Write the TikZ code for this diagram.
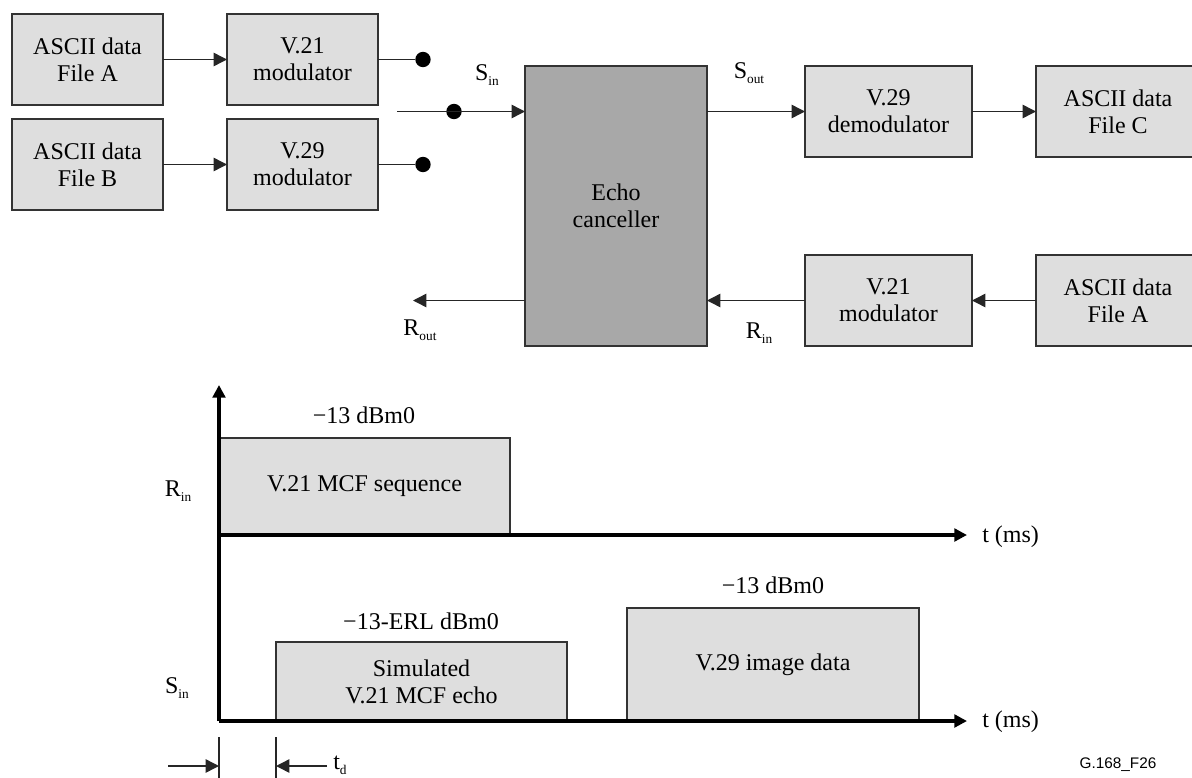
\documentclass[tikz,border=0pt]{standalone}
\usepackage{fontspec}
\setmainfont{Liberation Serif}
\newfontfamily\labelsans{Liberation Sans}
\usetikzlibrary{arrows.meta}
\newcommand{\mainfs}{\fontsize{18}{20.25}\selectfont}
\newcommand{\sbs}[1]{\raisebox{-3.75pt}{\fontsize{10}{10}\selectfont #1}}
\begin{document}
\begin{tikzpicture}[x=0.75pt,y=-0.75pt,
  blk/.style 2 args={draw=black!80, line width=0.9pt, fill=black!13, inner sep=0pt, outer sep=0pt,
    align=center, font=\mainfs, minimum width={#1*0.75pt}, minimum height={#2*0.75pt}},
  lbl/.style={font=\mainfs, inner sep=0pt},
  arr/.style={draw=black!85, line width=1.1pt, -{Triangle[length=10pt,width=10pt]}},
  wire/.style={draw=black!85, line width=1.1pt},
  dot/.style={circle, fill=black, inner sep=0pt, minimum size=11.5pt},
  axis/.style={draw=black, line width=2.6pt, -{Triangle[length=9.5pt,width=9.5pt]}},
  tick/.style={draw=black!85, line width=1.1pt}]
\useasboundingbox (0,0) rectangle (1192,778);
\clip (0,0) rectangle (1192,778);

% ---------- block diagram ----------
\node[blk={151}{91}] (fileA) at (87.5,59.5) {ASCII data\\File A};
\node[blk={151}{91}] (v21a) at (302.5,59.5) {V.21\\modulator};
\node[blk={151}{91}] (fileB) at (87.5,164.5) {ASCII data\\File B};
\node[blk={151}{91}] (v29a) at (302.5,164.5) {V.29\\modulator};

\node[dot] (d1) at (423,59.5) {};
\node[dot] (d2) at (423,164.5) {};
\node[dot] (d3) at (454,111.5) {};
\coordinate (sinstart) at (397,111.5);

\node[blk={182}{280}, fill=black!34] (echo) at (616,206) {Echo\\canceller};

\node[blk={167}{91}] (demod) at (888.5,111.5) {V.29\\demodulator};
\node[blk={164}{91}] (fileC) at (1118,111.5) {ASCII data\\File C};
\node[blk={167}{91}] (v21b) at (888.5,300.5) {V.21\\modulator};
\node[blk={164}{91}] (fileA2) at (1118,300.5) {ASCII data\\File A};
\coordinate (routend) at (413,300.5);

\draw[arr] (fileA) -- (v21a);
\draw[arr] (fileB) -- (v29a);
\draw[wire] (v21a.east) -- (d1);
\draw[wire] (v29a.east) -- (d2);
\draw[arr] (sinstart) -- (sinstart -| echo.west);
\draw[arr] (echo.east |- demod.west) -- (demod.west);
\draw[arr] (demod) -- (fileC);
\draw[arr] (fileA2) -- (v21b);
\draw[arr] (v21b.west) -- (v21b.west -| echo.east);
\draw[arr] (echo.west |- routend) -- (routend);

\node[lbl] (lsin) at (487,75) {S\sbs{in}};
\node[lbl] (lsout) at (749,73) {S\sbs{out}};
\node[lbl] (lrin) at (759,333) {R\sbs{in}};
\node[lbl] (lrout) at (420,330) {R\sbs{out}};

% ---------- timing diagram ----------
\coordinate (o1) at (219,535);
\coordinate (o2) at (219,721);
\coordinate (ytop) at (219,385);
\coordinate (x1end) at (967,535);
\coordinate (x2end) at (967,721);

\node[blk={291}{97}] (mcf) at (364.5,486.5) {V.21 MCF sequence};
\node[blk={291}{79}] (echoseg) at (421.5,681.5) {Simulated\\V.21 MCF echo};
\node[blk={292}{113}] (img) at (773,664.5) {V.29 image data};

\draw[axis] (o2) -- (ytop);
\draw[axis] (o1) -- (x1end);
\draw[axis] (o2) -- (x2end);

\node[lbl] (lv1) at (364,415) {−13 dBm0};
\node[lbl] (lv2) at (421,621) {−13-ERL dBm0};
\node[lbl] (lv3) at (773,585) {−13 dBm0};
\node[lbl] (lrin2) at (178,491) {R\sbs{in}};
\node[lbl] (lsin2) at (177,688) {S\sbs{in}};
\node[lbl, anchor=west] (lt1) at (982,537) {t (ms)};
\node[lbl, anchor=west] (lt2) at (982,722) {t (ms)};

% ---------- t_d ----------
\coordinate (ta) at (219,737);
\coordinate (tb) at (219,790);
\coordinate (tc) at (276,737);
\coordinate (td) at (276,790);
\coordinate (tl) at (168,766);
\coordinate (tr) at (327,766);
\draw[tick] (ta) -- (tb);
\draw[tick] (tc) -- (td);
\draw[arr] (tl) -- (tl -| ta);
\draw[arr] (tr) -- (tr -| tc);
\node[lbl, anchor=west] (ltd) at (333,765) {t\sbs{d}};

\node[font=\labelsans\fontsize{11.5}{13}\selectfont, inner sep=0pt] (fig) at (1118,765) {G.168\_F26};
\end{tikzpicture}
\end{document}
